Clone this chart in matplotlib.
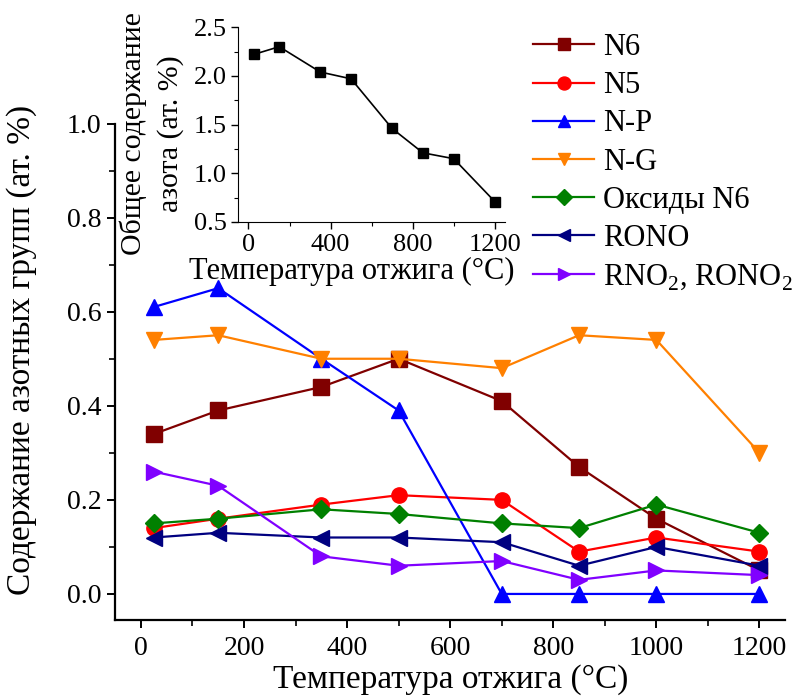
import numpy as np
import matplotlib
matplotlib.use("Agg")
import matplotlib.pyplot as plt
from matplotlib.ticker import MultipleLocator, FormatStrFormatter

plt.rcParams["font.family"] = ["Liberation Serif", "DejaVu Serif"]
plt.rcParams["mathtext.fontset"] = "custom"
plt.rcParams["mathtext.rm"] = "Liberation Serif"

# temperatures of annealing
temp = [25, 150, 350, 500, 700, 850, 1000, 1200]

# nitrogen groups, at. %
n6 = [0.34, 0.39, 0.44, 0.50, 0.41, 0.27, 0.16, 0.05]
n5 = [0.14, 0.16, 0.19, 0.21, 0.20, 0.09, 0.12, 0.09]
n_p = [0.61, 0.65, 0.50, 0.39, 0.0, 0.0, 0.0, 0.0]
n_g = [0.54, 0.55, 0.50, 0.50, 0.48, 0.55, 0.54, 0.30]
oxides = [0.15, 0.16, 0.18, 0.17, 0.15, 0.14, 0.19, 0.13]
rono = [0.12, 0.13, 0.12, 0.12, 0.11, 0.06, 0.10, 0.06]
rno2 = [0.26, 0.23, 0.08, 0.06, 0.07, 0.03, 0.05, 0.04]

# total nitrogen (inset)
total_n = [2.22, 2.30, 2.04, 1.97, 1.46, 1.21, 1.15, 0.71]

series = [
    (n6, "N6", "#800000", "s"),
    (n5, "N5", "#ff0000", "o"),
    (n_p, "N-P", "#0000ff", "^"),
    (n_g, "N-G", "#ff8000", "v"),
    (oxides, "Оксиды N6", "#008000", "D"),
    (rono, "RONO", "#000080", "<"),
    (rno2, "RNO$_2$, RONO$_2$", "#8000ff", ">"),
]

fig = plt.figure(figsize=(7.94, 6.98), dpi=100)
ax = fig.add_axes([0.145, 0.112, 0.844, 0.711])

for y, lab, col, mk in series:
    ms = 11 if mk != "D" else 9
    ax.plot(temp, y, color=col, marker=mk, markersize=ms, lw=1.6, label=lab)

ax.set_xlim(-50, 1250)
ax.set_ylim(-0.055, 1.0)
ax.xaxis.set_major_locator(MultipleLocator(200))
ax.xaxis.set_minor_locator(MultipleLocator(100))
ax.yaxis.set_major_locator(MultipleLocator(0.2))
ax.yaxis.set_minor_locator(MultipleLocator(0.1))
ax.yaxis.set_major_formatter(FormatStrFormatter("%.1f"))
for s in ["top", "right"]:
    ax.spines[s].set_visible(False)
for s in ["left", "bottom"]:
    ax.spines[s].set_linewidth(1.6)
ax.tick_params(which="major", length=6, width=1.4, labelsize=20)
ax.tick_params(which="minor", length=4, width=1.2)
ax.tick_params(axis="x", pad=6)
ax.tick_params(axis="y", pad=4)
ax.set_xlabel("Температура отжига (°C)", fontsize=24, labelpad=0)
ax.xaxis.set_label_coords(0.5, -0.09)
ax.set_ylabel("Содержание азотных групп (ат. %)", fontsize=24)
ax.yaxis.set_label_coords(-0.117, 0.544)

ax.legend(loc="upper left", bbox_to_anchor=(0.656, 0.97), bbox_transform=fig.transFigure,
          frameon=False, fontsize=22, handlelength=2.0, labelspacing=0.3,
          handletextpad=0.3, borderaxespad=0, markerscale=0.85)

# inset: total nitrogen
ins = fig.add_axes([0.300, 0.682, 0.336, 0.279])
ins.plot(temp, total_n, color="black", marker="s", markersize=7, lw=1.2)
ins.set_xlim(-50, 1250)
ins.set_ylim(0.5, 2.5)
ins.xaxis.set_major_locator(MultipleLocator(400))
ins.xaxis.set_minor_locator(MultipleLocator(200))
ins.yaxis.set_major_locator(MultipleLocator(0.5))
ins.yaxis.set_minor_locator(MultipleLocator(0.25))
for s in ["top", "right"]:
    ins.spines[s].set_visible(False)
ins.tick_params(which="major", length=5, width=1.0, labelsize=19)
ins.tick_params(which="minor", length=3, width=0.8)
ins.set_xlabel("Температура отжига (°C)", fontsize=22)
ins.xaxis.set_label_coords(0.427, -0.18)
ins.set_ylabel("Общее содержание\nазота (ат. %)", fontsize=21.5, linespacing=1.5)
ins.yaxis.set_label_coords(-0.202, 0.456)

fig.savefig("out.png", dpi=100)
